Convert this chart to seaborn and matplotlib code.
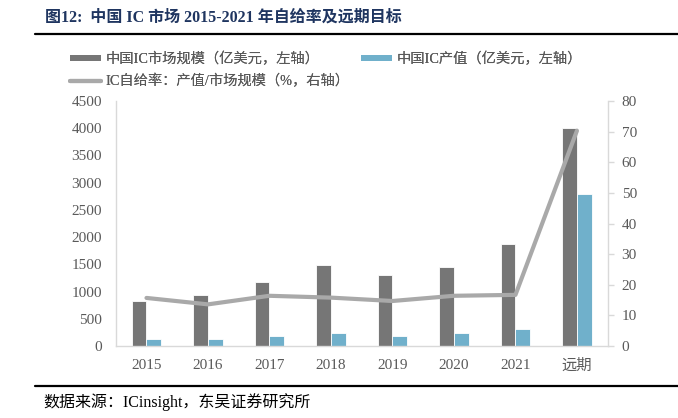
import matplotlib
matplotlib.use("Agg")
import matplotlib.pyplot as plt
import seaborn as sns
import numpy as np
import pandas as pd
from matplotlib.patches import Patch
from matplotlib.lines import Line2D

categories = ["2015", "2016", "2017", "2018", "2019", "2020", "2021", "远期"]
market_size = [832, 937, 1170, 1494, 1304, 1451, 1868, 4000]
production = [129, 123, 190, 239, 190, 239, 312, 2800]
self_rate = [15.7, 13.6, 16.4, 15.8, 14.7, 16.4, 16.7, 70.3]

s_market = "中国IC市场规模（亿美元，左轴）"
s_prod = "中国IC产值（亿美元，左轴）"
s_rate = "IC自给率：产值/市场规模（%，右轴）"

sns.set_theme(style="white")
FAM = ["Liberation Serif", "Noto Sans CJK SC", "DejaVu Sans"]
plt.rcParams["font.family"] = FAM

c_gray = "#767676"
c_blue = "#70B0CB"
c_line = "#A9A9A9"
c_tick = "#595959"
c_spine = "#D9D9D9"

df = pd.DataFrame({
    "cat": categories * 2,
    "val": market_size + production,
    "series": [s_market] * len(categories) + [s_prod] * len(categories),
})

W, H = 678, 418
fig = plt.figure(figsize=(W / 100, H / 100), dpi=100)
ax = fig.add_axes([0.1707, 0.1722, 0.8963 - 0.1707, 0.7584 - 0.1722])

sns.barplot(data=df, x="cat", y="val", hue="series", order=categories,
            hue_order=[s_market, s_prod], palette=[c_gray, c_blue],
            width=0.48, saturation=1, edgecolor="white", linewidth=0.6,
            legend=False, ax=ax)
ax.set_xlim(-0.5, len(categories) - 0.5)
ax.set_ylim(0, 4500)
ax.set_yticks(np.arange(0, 4501, 500))
ax.set_xlabel("")
ax.set_ylabel("")

ax2 = ax.twinx()
sns.lineplot(x=np.arange(len(categories)), y=self_rate, color=c_line,
             linewidth=3.0, ax=ax2, legend=False)
ax2.set_ylim(0, 80)
ax2.set_yticks(np.arange(0, 81, 10))
ax2.set_xlim(-0.5, len(categories) - 0.5)

for a in (ax, ax2):
    for s in a.spines.values():
        s.set_color(c_spine)
        s.set_linewidth(1.0)
    a.spines["top"].set_visible(False)
ax.spines["right"].set_visible(False)
ax2.spines["left"].set_visible(False)
ax2.spines["bottom"].set_visible(False)

ax.tick_params(axis="y", length=0, pad=10, labelsize=11, labelcolor=c_tick)
ax.tick_params(axis="x", length=0, pad=9, labelsize=11, labelcolor=c_tick)
ax2.tick_params(axis="y", length=4, width=1, color=c_spine, pad=6,
                labelsize=11, labelcolor=c_tick, direction="out")
for lab in ax.get_xticklabels():
    lab.set_family(FAM)

legend_items = [
    (Patch(facecolor=c_gray, edgecolor="none"), s_market, 70, 59),
    (Patch(facecolor=c_blue, edgecolor="none"), s_prod, 361, 59),
    (Line2D([0], [0], color=c_line, linewidth=3.0), s_rate, 70, 81),
]
for h, lab, px, py in legend_items:
    lg = fig.legend([h], [lab], loc="center left",
                    bbox_to_anchor=(px / W, 1 - py / H),
                    frameon=False, fontsize=10.3, handlelength=2.2,
                    handleheight=0.3, handletextpad=0.3, borderpad=0,
                    borderaxespad=0, labelcolor=c_tick)
    fig.add_artist(lg)

fig.text(45 / W, 1 - 18 / H, "图12:  中国 IC 市场 2015-2021 年自给率及远期目标",
         fontsize=11.5, fontweight="bold", color="#1F3560", va="center", ha="left")
fig.add_artist(Line2D([35 / W, 1.0], [1 - 33.5 / H] * 2, color="black", linewidth=1.6,
                      transform=fig.transFigure))
fig.add_artist(Line2D([35 / W, 1.0], [1 - 386 / H] * 2, color="black", linewidth=1.6,
                      transform=fig.transFigure))
fig.text(43 / W, 1 - 402 / H, "数据来源：ICinsight，东吴证券研究所",
         fontsize=11.5, color="black", va="center", ha="left")

fig.savefig("out.png", dpi=100)
